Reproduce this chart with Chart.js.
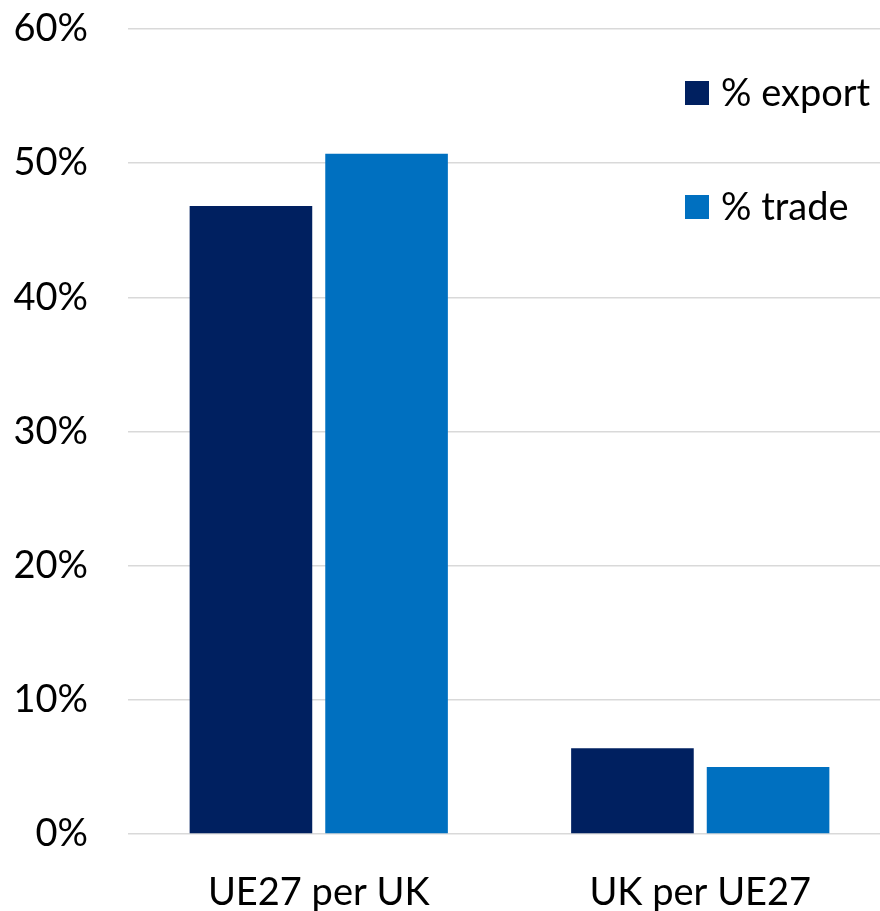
<!DOCTYPE html>
<html>
<head>
<meta charset="utf-8">
<script src="https://cdn.jsdelivr.net/npm/chart.js@4/dist/chart.umd.min.js"></script>
<style>
  html, body { margin: 0; padding: 0; background: #fff; overflow: hidden; }
  #wrap { width: 891px; height: 911px; position: relative; }
</style>
</head>
<body>
<div id="wrap"><canvas id="c"></canvas></div>
<script>
const categories = ['UE27 per UK', 'UK per UE27'];
const seriesNames = ['% export', '% trade'];
const exportValues = [46.8, 6.4];
const tradeValues = [50.7, 5.0];
const yTicks = [0, 10, 20, 30, 40, 50, 60];

const FONT = 'Lato, "Noto Sans", sans-serif';
const FSIZE = 38;

const legendPlugin = {
  id: 'insideLegend',
  afterDraw(chart) {
    const ctx = chart.ctx;
    const x0 = 685, ys = [81, 195], box = 24;
    ctx.save();
    ctx.font = FSIZE + 'px ' + FONT;
    ctx.textBaseline = 'middle';
    ctx.textAlign = 'left';
    chart.data.datasets.forEach((ds, i) => {
      ctx.fillStyle = ds.backgroundColor;
      ctx.fillRect(x0, ys[i], box, box);
      ctx.fillStyle = '#000';
      ctx.fillText(ds.label, x0 + 36, ys[i] + box / 2 + 1);
    });
    ctx.restore();
  }
};

new Chart(document.getElementById('c'), {
  type: 'bar',
  data: {
    labels: categories,
    datasets: [
      { label: seriesNames[0], data: exportValues, backgroundColor: '#002060' },
      { label: seriesNames[1], data: tradeValues, backgroundColor: '#0070C0' }
    ]
  },
  options: {
    responsive: true,
    maintainAspectRatio: false,
    animation: false,
    layout: { padding: { top: 29, right: 0, bottom: 0, left: 0 } },
    categoryPercentage: 0.711,
    barPercentage: 0.904,
    plugins: { legend: { display: false }, tooltip: { enabled: false } },
    scales: {
      x: {
        grid: { display: false, drawTicks: false },
        border: { display: false },
        ticks: { color: '#000', font: { family: FONT, size: FSIZE }, padding: 36 },
        afterFit(s) { s.height = 77; s.paddingLeft = 0; s.paddingRight = 0; }
      },
      y: {
        min: 0, max: 60,
        afterBuildTicks(s) { s.ticks = yTicks.map(v => ({ value: v })); },
        grid: { color: '#d9d9d9', lineWidth: 1.5, drawTicks: false },
        border: { display: false },
        ticks: { color: '#000', font: { family: FONT, size: FSIZE }, padding: 40,
                 callback: v => v + '%' },
        afterFit(s) { s.width = 128; s.paddingTop = 0; s.paddingBottom = 0; }
      }
    }
  },
  plugins: [legendPlugin]
});
</script>
</body>
</html>
